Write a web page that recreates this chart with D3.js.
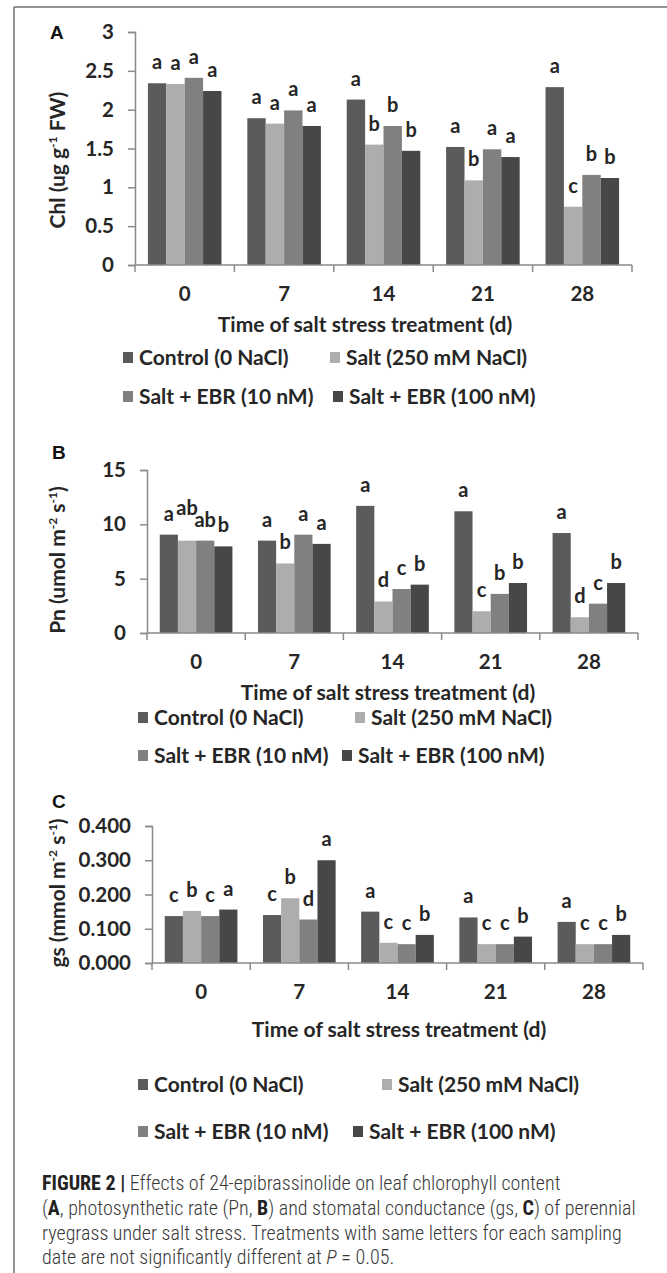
<!DOCTYPE html>
<html>
<head>
<meta charset="utf-8">
<script src="https://cdn.jsdelivr.net/npm/d3@7"></script>
<style>
  body { margin: 0; background: #fff; }
  svg { display: block; }
  .tick-lbl, .axis-title, .legend-lbl, .sig { font-family: Lato, "Open Sans", sans-serif; font-weight: bold; fill: #262626; }
  .panel-lbl { font-family: "Liberation Sans", Arial, sans-serif; font-weight: bold; font-size: 19px; fill: #111; }
  .caption { font-family: "Liberation Sans Narrow", "Roboto Condensed", Roboto, sans-serif; font-size: 20px; font-weight: 300; fill: #383838; }
</style>
</head>
<body>
<div id="chart"></div>
<script>
const width = 667;
const height = 1273;

const days = ["0", "7", "14", "21", "28"];
const treatments = ["Control (0 NaCl)", "Salt (250 mM NaCl)", "Salt + EBR (10 nM)", "Salt + EBR (100 nM)"];
const colors = ["#5b5b5b", "#adadad", "#808080", "#474747"];

// panel A: chlorophyll (ug g-1 FW)
const chlControl = [2.34, 1.89, 2.13, 1.52, 2.29];
const chlSalt = [2.33, 1.82, 1.55, 1.09, 0.75];
const chlEbr10 = [2.41, 1.99, 1.79, 1.49, 1.16];
const chlEbr100 = [2.24, 1.79, 1.47, 1.39, 1.12];
const chlLetters = [["a", "a", "a", "a"], ["a", "a", "a", "a"], ["a", "b", "b", "b"], ["a", "b", "a", "a"], ["a", "c", "b", "b"]];
const chlTicks = [0, 0.5, 1, 1.5, 2, 2.5, 3];

// panel B: Pn (umol m-2 s-1)
const pnControl = [9.05, 8.5, 11.7, 11.2, 9.2];
const pnSalt = [8.5, 6.4, 2.9, 2.0, 1.45];
const pnEbr10 = [8.5, 9.05, 4.05, 3.6, 2.7];
const pnEbr100 = [7.97, 8.2, 4.45, 4.6, 4.6];
const pnLetters = [["a", "ab", "ab", "b"], ["a", "b", "a", "a"], ["a", "d", "c", "b"], ["a", "c", "b", "b"], ["a", "d", "c", "b"]];
const pnTicks = [0, 5, 10, 15];

// panel C: gs (mmol m-2 s-1)
const gsControl = [0.137, 0.14, 0.15, 0.133, 0.12];
const gsSalt = [0.152, 0.189, 0.059, 0.055, 0.055];
const gsEbr10 = [0.137, 0.127, 0.055, 0.055, 0.055];
const gsEbr100 = [0.156, 0.30, 0.082, 0.077, 0.082];
const gsLetters = [["c", "b", "c", "a"], ["c", "b", "d", "a"], ["a", "c", "c", "b"], ["a", "c", "c", "b"], ["a", "c", "c", "b"]];
const gsTicks = [0, 0.1, 0.2, 0.3, 0.4];

const xTitle = "Time of salt stress treatment (d)";

const svg = d3.select("#chart").append("svg")
  .attr("width", width)
  .attr("height", height);

// frame lines
svg.append("line").attr("x1", 14).attr("x2", width).attr("y1", 7).attr("y2", 7)
  .attr("stroke", "#6e6e6e").attr("stroke-width", 1.5);
svg.append("line").attr("x1", 14).attr("x2", 14).attr("y1", 7).attr("y2", height)
  .attr("stroke", "#6e6e6e").attr("stroke-width", 1.5);

const panels = [
  {
    label: "A", labelPos: [50, 39],
    series: [chlControl, chlSalt, chlEbr10, chlEbr100], letters: chlLetters,
    ticks: chlTicks, fmt: d3.format(""), max: 3,
    x0: 135, x1: 632, yTop: 32, yBase: 265,
    yTitle: ["Chl (ug g", "-1", " FW)"], yTitleY: 160,
    titleX: 365, titleY: 332,
    legendRows: [[123, 330], [123, 333]], legendY: [365, 404]
  },
  {
    label: "B", labelPos: [52, 459],
    series: [pnControl, pnSalt, pnEbr10, pnEbr100], letters: pnLetters,
    ticks: pnTicks, fmt: d3.format(""), max: 15,
    x0: 147, x1: 638, yTop: 470, yBase: 633,
    yTitle: ["Pn (umol m", "-2", " s", "-1", ")"], yTitleY: 560,
    titleX: 388, titleY: 700,
    legendRows: [[138, 355], [138, 342]], legendY: [725, 763]
  },
  {
    label: "C", labelPos: [52, 808],
    series: [gsControl, gsSalt, gsEbr10, gsEbr100], letters: gsLetters,
    ticks: gsTicks, fmt: d3.format(".3f"), max: 0.4,
    x0: 152, x1: 643, yTop: 826, yBase: 963,
    yTitle: ["gs (mmol m", "-2", " s", "-1", ")"], yTitleY: 893,
    titleX: 399, titleY: 1037,
    legendRows: [[138, 382], [138, 353]], legendY: [1092, 1139]
  }
];

function drawPanel(p) {
  const g = svg.append("g");

  const x = d3.scaleBand().domain(days).range([p.x0, p.x1])
    .paddingInner(0.26).paddingOuter(0.13);
  const xInner = d3.scaleBand().domain(d3.range(treatments.length)).range([0, x.bandwidth()]);
  const y = d3.scaleLinear().domain([0, p.max]).range([p.yBase, p.yTop]);

  g.append("text").attr("class", "panel-lbl")
    .attr("x", p.labelPos[0]).attr("y", p.labelPos[1]).text(p.label);

  // bars
  const rows = days.map((d, i) => ({ day: d, vals: p.series.map(s => s[i]), letters: p.letters[i] }));
  const grp = g.selectAll(".grp").data(rows).enter().append("g")
    .attr("transform", d => `translate(${x(d.day)},0)`);

  grp.selectAll("rect").data(d => d.vals).enter().append("rect")
    .attr("x", (d, i) => xInner(i))
    .attr("width", xInner.bandwidth())
    .attr("y", d => y(d))
    .attr("height", d => y(0) - y(d))
    .attr("fill", (d, i) => colors[i]);

  grp.each(function () {
    const labels = d3.select(this).selectAll(".sig")
      .data(d => d.vals.map((v, i) => ({ v, l: d.letters[i] }))).enter().append("text")
      .attr("class", "sig")
      .attr("x", (d, i) => xInner(i) + xInner.bandwidth() / 2)
      .attr("y", d => y(d.v) - 14)
      .attr("text-anchor", "middle")
      .attr("font-size", 20)
      .text(d => d.l);

    // lift a letter that would run into its right-hand neighbour
    const nodes = labels.nodes();
    for (let i = nodes.length - 2; i >= 0; i--) {
      const a = nodes[i].getBBox(), b = nodes[i + 1].getBBox();
      const overlapX = a.x + a.width > b.x + 1 && b.x + b.width > a.x + 1;
      const overlapY = a.y + a.height * 0.75 > b.y + a.height * 0.25 && b.y + b.height * 0.75 > a.y + a.height * 0.25;
      if (overlapX && overlapY) {
        const cur = +nodes[i].getAttribute("y");
        const nb = +nodes[i + 1].getAttribute("y");
        nodes[i].setAttribute("y", Math.min(cur, nb - 12));
      }
    }
  });

  // y axis
  const yAxis = g.append("g").attr("transform", `translate(${p.x0},0)`)
    .call(d3.axisLeft(y).tickValues(p.ticks).tickFormat(p.fmt).tickSize(7).tickPadding(14));
  yAxis.select(".domain").attr("stroke", "#8a8a8a").attr("stroke-width", 1.5);
  yAxis.selectAll(".tick line").attr("stroke", "#8a8a8a").attr("stroke-width", 1.5);
  yAxis.selectAll(".tick text").attr("class", "tick-lbl").attr("font-size", 20.5).attr("fill", null);

  // x axis: ticks sit at the band edges
  const edges = days.map(d => x(d) - x.step() * x.paddingInner() / 2).concat([p.x1]);
  g.append("line").attr("x1", p.x0).attr("x2", p.x1).attr("y1", p.yBase).attr("y2", p.yBase)
    .attr("stroke", "#8a8a8a").attr("stroke-width", 1.5);
  g.selectAll(".xtick").data(edges).enter().append("line")
    .attr("x1", d => d).attr("x2", d => d)
    .attr("y1", p.yBase).attr("y2", p.yBase + 7)
    .attr("stroke", "#8a8a8a").attr("stroke-width", 1.5);
  g.selectAll(".xlbl").data(days).enter().append("text")
    .attr("class", "tick-lbl")
    .attr("x", d => x(d) + x.bandwidth() / 2)
    .attr("y", p.yBase + 36)
    .attr("text-anchor", "middle")
    .attr("font-size", 20.5)
    .text(d => d);

  // axis titles
  g.append("text").attr("class", "axis-title")
    .attr("x", p.titleX).attr("y", p.titleY)
    .attr("text-anchor", "middle").attr("font-size", 21)
    .text(xTitle);

  const yt = g.append("text").attr("class", "axis-title")
    .attr("transform", `translate(65,${p.yTitleY}) rotate(-90)`)
    .attr("text-anchor", "middle").attr("font-size", 21);
  p.yTitle.forEach((s, i) => {
    const sup = i % 2 === 1;
    yt.append("tspan")
      .attr("font-size", sup ? 12 : null)
      .attr("dy", sup ? -8 : (i > 0 ? 8 : 0))
      .text(s);
  });

  // legend (two items per row)
  p.legendRows.forEach((row, r) => {
    row.forEach((lx, c) => {
      const k = r * 2 + c;
      g.append("rect")
        .attr("x", lx).attr("y", p.legendY[r] - 13)
        .attr("width", 10).attr("height", 11)
        .attr("fill", colors[k]);
      g.append("text").attr("class", "legend-lbl")
        .attr("x", lx + 16).attr("y", p.legendY[r])
        .attr("font-size", 21)
        .text(treatments[k]);
    });
  });
}

panels.forEach(drawPanel);

// caption
const capLines = [
  [["FIGURE 2 |", "b"], [" Effects of 24-epibrassinolide on leaf chlorophyll content", ""]],
  [["(", ""], ["A", "b"], [", photosynthetic rate (Pn, ", ""], ["B", "b"], [") and stomatal conductance (gs, ", ""], ["C", "b"], [") of perennial", ""]],
  [["ryegrass under salt stress. Treatments with same letters for each sampling", ""]],
  [["date are not significantly different at ", ""], ["P", "i"], [" = 0.05.", ""]]
];
const capY = [1190, 1215, 1240, 1264];

capLines.forEach((line, i) => {
  const t = svg.append("text").attr("class", "caption").attr("x", 42).attr("y", capY[i]);
  line.forEach(([s, st]) => {
    t.append("tspan")
      .attr("font-weight", st === "b" ? "bold" : null)
      .attr("font-style", st === "i" ? "italic" : null)
      .attr("fill", st === "b" ? "#222" : null)
      .text(s);
  });
});
</script>
</body>
</html>
